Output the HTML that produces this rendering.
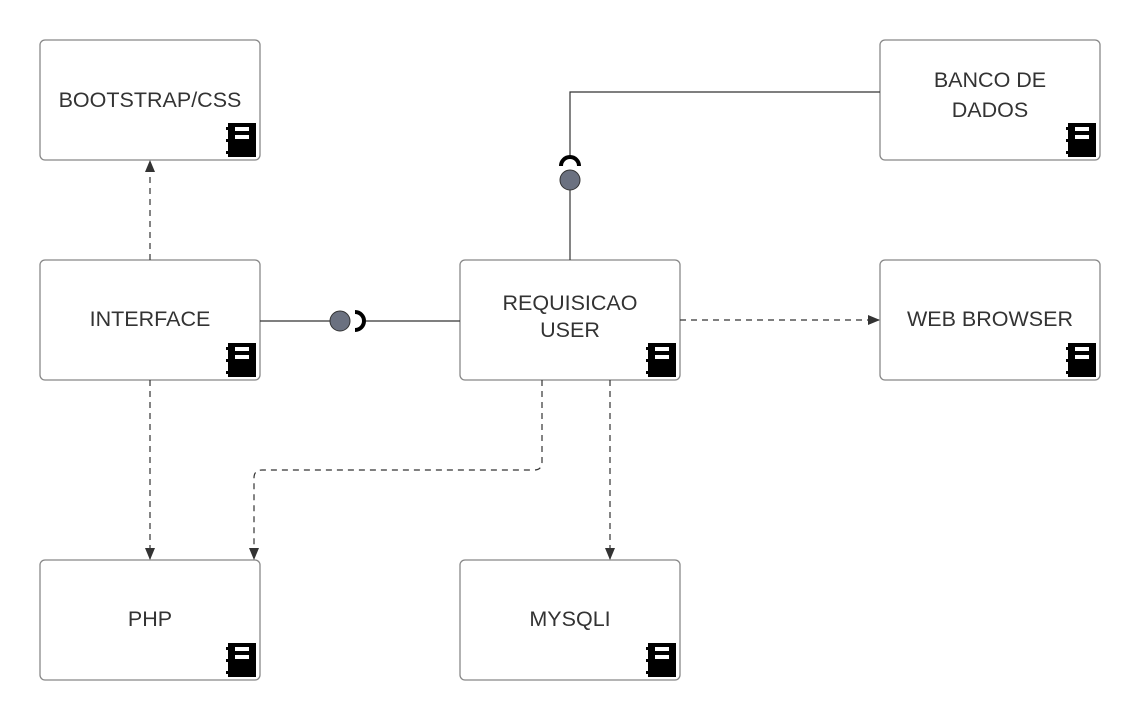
<!DOCTYPE html>
<html><head><style>body{margin:0;background:#fff}svg{display:block}text{font-family:"Liberation Sans",sans-serif;font-size:21.5px;fill:#333;text-anchor:middle}</style></head>
<body>
<svg width="1140" height="720" viewBox="0 0 1140 720">
<defs>
<g id="ic">
<rect x="-32" y="-37" width="28" height="34" fill="#000"/>
<rect x="-34" y="-33" width="4" height="3" fill="#000"/>
<rect x="-34" y="-21" width="4" height="3" fill="#000"/>
<rect x="-34" y="-9" width="4" height="3" fill="#000"/>
<rect x="-25" y="-33" width="14" height="4" fill="#fff"/>
<rect x="-25" y="-25" width="14" height="4" fill="#fff"/>
</g>
<marker id="a" markerWidth="14" markerHeight="12" refX="11" refY="6" orient="auto" markerUnits="userSpaceOnUse"><path d="M0,1 L12,6 L0,11z" fill="#333"/></marker>
</defs>
<g fill="#fff" stroke="#888" stroke-width="1.3">
<rect x="40" y="40" width="220" height="120" rx="5"/>
<rect x="40" y="260" width="220" height="120" rx="5"/>
<rect x="40" y="560" width="220" height="120" rx="5"/>
<rect x="460" y="260" width="220" height="120" rx="5"/>
<rect x="460" y="560" width="220" height="120" rx="5"/>
<rect x="880" y="40" width="220" height="120" rx="5"/>
<rect x="880" y="260" width="220" height="120" rx="5"/>
</g>
<use href="#ic" x="260" y="160"/><use href="#ic" x="260" y="380"/><use href="#ic" x="260" y="680"/>
<use href="#ic" x="680" y="380"/><use href="#ic" x="680" y="680"/><use href="#ic" x="1100" y="160"/><use href="#ic" x="1100" y="380"/>
<text x="150" y="107">BOOTSTRAP/CSS</text>
<text x="150" y="326">INTERFACE</text>
<text x="150" y="626">PHP</text>
<text x="570" y="310">REQUISICAO</text>
<text x="570" y="337">USER</text>
<text x="570" y="626">MYSQLI</text>
<text x="990" y="87">BANCO DE</text>
<text x="990" y="117">DADOS</text>
<text x="990" y="326">WEB BROWSER</text>
<g stroke="#333" stroke-width="1.2" fill="none">
<line x1="260" y1="321" x2="330" y2="321"/>
<line x1="366" y1="321" x2="460" y2="321"/>
<path d="M570,260 V190"/>
<path d="M570,158 V92 H880"/>
</g>
<circle cx="340" cy="321" r="10" fill="#6b7180" stroke="#333"/>
<path d="M355,312 A9,9 0 0 1 355,330" fill="none" stroke="#000" stroke-width="4"/>
<circle cx="570" cy="180" r="10" fill="#6b7180" stroke="#333"/>
<path d="M561,166 A9,9 0 0 1 579,166" fill="none" stroke="#000" stroke-width="4"/>
<g stroke="#333" stroke-width="1.2" fill="none" stroke-dasharray="6,5" marker-end="url(#a)">
<path d="M150,260 V161"/>
<path d="M150,380 V559"/>
<path d="M542,380 V462 Q542,470 534,470 H262 Q254,470 254,478 V559"/>
<path d="M610,380 V559"/>
<path d="M680,320 H879"/>
</g>
</svg>
</body></html>
